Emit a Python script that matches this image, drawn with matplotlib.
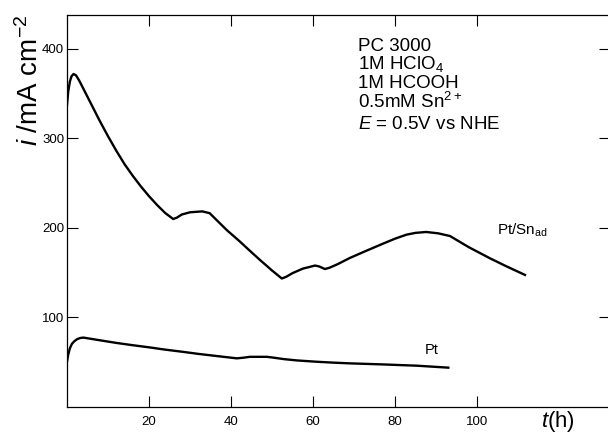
import matplotlib
matplotlib.use("Agg")
import matplotlib.pyplot as plt

# Chronoamperometric current density, formic acid oxidation at E = 0.5 V vs NHE
t_ptsn = [0, 0.3, 0.7, 1.1, 1.6, 2.2, 3, 4, 6, 8, 10, 12, 14, 16, 18, 20, 22, 24,
          25.9, 26.8, 28, 30, 33, 34.8, 37, 39, 42, 44.6, 47, 50, 52.4,
          53.5, 55, 57.5, 60.5, 61.5, 62.9, 64, 66, 69, 73, 77.1, 80, 82.8,
          85, 87.6, 90.5, 93.4, 98, 103.2, 107, 111.7]
i_ptsn = [337, 352, 363, 369, 371.5, 370, 364, 355, 337, 319, 302, 286, 271, 258, 246, 235, 225, 216,
          209.5, 211, 214.5, 217, 218, 216, 206, 197, 185, 174, 164, 152, 143,
          145, 149, 154, 157.5, 156.5, 153.6, 155, 159, 166, 174, 182, 187.5, 192,
          194, 195, 193.5, 190.5, 178, 165.5, 157, 147]

t_pt = [0, 0.3, 0.7, 1.2, 1.8, 2.5, 3.2, 4, 6, 8, 12.1, 16, 20.2, 24, 28.4, 32,
        36.5, 41.4, 43, 44.6, 48.8, 50.5, 52.8, 56, 60.9, 65, 69, 77.1, 85.3, 93]
i_pt = [50, 58, 65, 70, 73, 75.3, 76.5, 77, 75.5, 74, 71, 68.5, 66, 63.5, 61, 58.8,
        56.4, 53.8, 54.5, 55.5, 55.5, 54.5, 53, 51.5, 50, 49, 48.2, 47, 45.6, 43.4]

x_ticks = [20, 40, 60, 80, 100]
y_ticks = [100, 200, 300, 400]

conditions = ["PC 3000", "1M HClO$_4$", "1M HCOOH", "0.5mM Sn$^{2+}$",
              "$E$ = 0.5V vs NHE"]

plt.rcParams['font.family'] = ['Liberation Sans', 'DejaVu Sans']
plt.rcParams['mathtext.fontset'] = 'custom'
plt.rcParams['mathtext.rm'] = 'Liberation Sans'
plt.rcParams['mathtext.it'] = 'Liberation Sans:italic'
plt.rcParams['mathtext.bf'] = 'Liberation Sans:bold'

W, H = 608, 436


def px(x, y):
    return x / W, 1 - y / H


fig = plt.figure(figsize=(W / 100, H / 100), dpi=100)
ax = fig.add_axes([67 / W, 29.5 / H, 543 / W, 391.5 / H])
ax.set_xlim(0, 543 / 4.1)
ax.set_ylim(0, 391.5 / 0.895)

ax.plot(t_ptsn, i_ptsn, color='black', lw=1.7, solid_joinstyle='round')
ax.plot(t_pt, i_pt, color='black', lw=1.7, solid_joinstyle='round')

ax.set_xticks(x_ticks)
ax.set_yticks(y_ticks)
ax.tick_params(direction='in', length=8, width=0.8, top=True, right=True,
               labelsize=9.5, color='black')
ax.tick_params(axis='y', pad=2)
ax.tick_params(axis='x', pad=7)
for s in ax.spines.values():
    s.set_linewidth(0.9)

ax.text(89, 63, "Pt", fontsize=10.5, ha='center', va='center')
ax.text(104.9, 197, r"Pt/Sn$_{\mathrm{ad}}$", fontsize=11, ha='left', va='center')

baselines = [51, 69.5, 88.5, 107.5, 129]
for line, yb in zip(conditions, baselines):
    fig.text(*px(358, yb), line, fontsize=13.5, ha='left', va='baseline')

fig.text(*px(30, 80), r"$i$ /mA cm$^{-2}$", fontsize=20, rotation=90,
         ha='center', va='center')
fig.text(*px(541, 421), r"$t$(h)", fontsize=16, ha='left', va='center')

fig.savefig('out.png', dpi=100)
